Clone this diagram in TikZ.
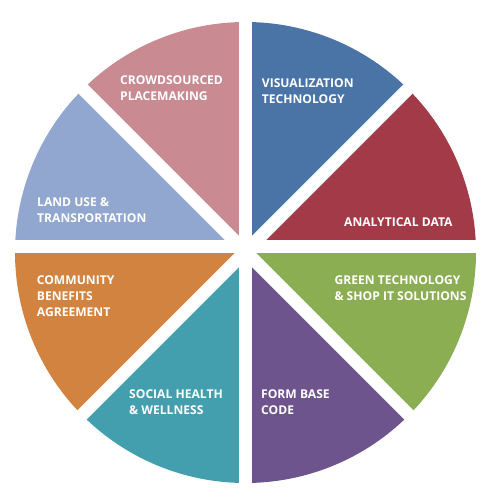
\documentclass[tikz,border=0pt]{standalone}
\usepackage{fontspec}
\setmainfont{Open Sans}
\usetikzlibrary{calc}
\definecolor{cBlue}{HTML}{4A74A6}
\definecolor{cRed}{HTML}{A23A47}
\definecolor{cGreen}{HTML}{8BAE53}
\definecolor{cPurple}{HTML}{6E548D}
\definecolor{cTeal}{HTML}{439EAE}
\definecolor{cOrange}{HTML}{D38340}
\definecolor{cLight}{HTML}{91A7CF}
\definecolor{cPink}{HTML}{CA8A92}
\tikzset{
  lbl/.style={anchor=west, inner sep=0pt, align=left, text=white,
    font=\fontsize{12.1}{16}\selectfont\bfseries},
  gap/.style={line width=13pt, white}
}
\begin{document}
\begin{tikzpicture}[x=1pt,y=-1pt]
\useasboundingbox (0,0) rectangle (500,500);
\coordinate (C) at (245.5,252.5);
\coordinate (D) at (245.5,251.5);
\def\R{230.5}
\foreach \a/\col in {0/cRed,45/cBlue,90/cPink,135/cLight,180/cOrange,225/cTeal,270/cPurple,315/cGreen}{
  \fill[\col] (C) -- ++(-\a:\R) arc[start angle=-\a, end angle=-\a-45, radius=\R] -- cycle;
}
% white separators
\draw[gap] (245.5,0) -- (245.5,500);
\draw[gap] (0,246.5) -- (500,246.5);
\draw[gap] ($(D)+(-260,-260)$) -- ($(D)+(260,260)$);
\draw[gap] ($(D)+(-260,260)$) -- ($(D)+(260,-260)$);
% labels
\node[lbl] (crowd) at (120,88.4) {CROWDSOURCED\\PLACEMAKING};
\node[lbl] (vis) at (261.7,90.8) {VISUALIZATION\\TECHNOLOGY};
\node[lbl] (ana) at (344,222) {ANALYTICAL DATA};
\node[lbl] (green) at (334.3,288.3) {GREEN TECHNOLOGY\\\& SHOP IT SOLUTIONS};
\node[lbl] (form) at (261,402.5) {FORM BASE\\CODE};
\node[lbl] (social) at (129,402.5) {SOCIAL HEALTH\\\& WELLNESS};
\node[lbl] (comm) at (36.7,296.3) {COMMUNITY\\BENEFITS\\AGREEMENT};
\node[lbl] (land) at (37,210.3) {LAND USE \&\\TRANSPORTATION};
\end{tikzpicture}
\end{document}
